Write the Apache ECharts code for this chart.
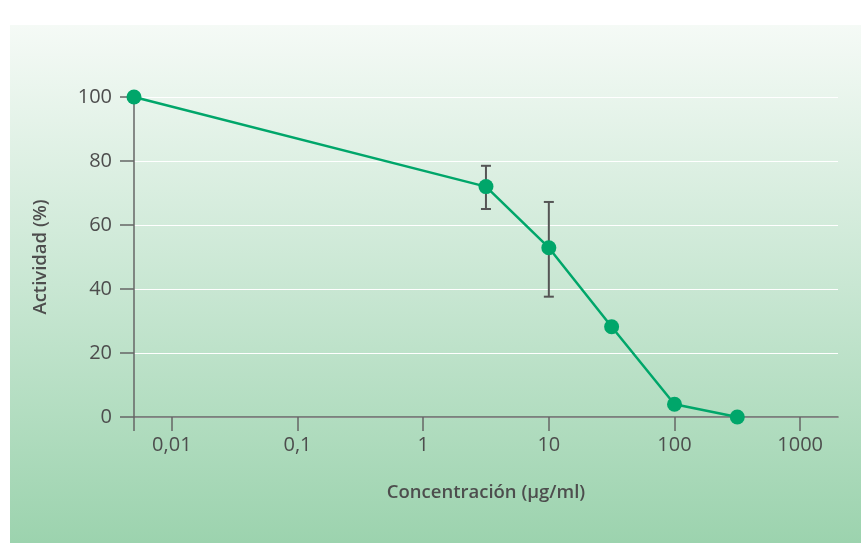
<!DOCTYPE html>
<html>
<head>
<meta charset="utf-8">
<script src="https://cdn.jsdelivr.net/npm/echarts@6/dist/echarts.min.js"></script>
<style>html,body{margin:0;padding:0;background:#fff;}#c{width:861px;height:543px;}</style>
</head>
<body>
<div id="c"></div>
<script>
// Data
const concentrations = [0.005, 3.16, 10, 31.6, 100, 316];
const activity = [100, 72, 52.9, 28.2, 4, 0];
const errLow = [null, 65, 37.6, null, null, null];
const errHigh = [null, 78.5, 67.2, null, null, null];
const xTickValues = [0.005, 0.01, 0.1, 1, 10, 100, 1000];
const xLabelValues = [0.01, 0.1, 1, 10, 100, 1000];
const xLabelTexts = ['0,01', '0,1', '1', '10', '100', '1000'];
const yTicks = [0, 20, 40, 60, 80, 100];

const chart = echarts.init(document.getElementById('c'), null, {renderer: 'canvas'});
const lineData = concentrations.map((c, i) => [c, activity[i]]);
const errData = [];
concentrations.forEach((c, i) => { if (errLow[i] != null) errData.push([c, errLow[i], errHigh[i]]); });

const font = '"Open Sans", "Noto Sans", sans-serif';
const axisCol = '#666666';
const textCol = '#4d4d4d';

chart.setOption({
  animation: false,
  graphic: [{
    type: 'rect', z: -10, silent: true,
    shape: {x: 10, y: 25, width: 851, height: 518},
    style: {fill: new echarts.graphic.LinearGradient(0, 0, 0, 1, [
      {offset: 0, color: '#f5faf6'},
      {offset: 0.5, color: '#c9e7d3'},
      {offset: 1, color: '#9cd3ae'}
    ])}
  }],
  grid: {left: 134, right: 23, top: 97, bottom: 126},
  xAxis: {
    type: 'log', logBase: 10, min: 0.005, max: 2000,
    name: 'Concentración (µg/ml)', nameLocation: 'middle', nameGap: 66,
    nameTextStyle: {fontFamily: font, fontWeight: 600, fontSize: 18.5, color: textCol},
    axisLine: {show: true, lineStyle: {color: axisCol, width: 1.5}},
    axisTick: {show: true, length: 14, lineStyle: {color: axisCol, width: 1.5}, customValues: xTickValues},
    axisLabel: {fontFamily: font, fontSize: 20, color: textCol, margin: 18, customValues: xLabelValues,
      formatter: function (v) { const i = xLabelValues.findIndex(t => Math.abs(t - v) / t < 1e-6); return i >= 0 ? xLabelTexts[i] : ''; }},
    splitLine: {show: false}
  },
  yAxis: {
    type: 'value', min: 0, max: 100, interval: 20,
    name: 'Actividad (%)', nameLocation: 'middle', nameGap: 84,
    nameTextStyle: {fontFamily: font, fontWeight: 600, fontSize: 18.5, color: textCol},
    axisLine: {show: true, lineStyle: {color: axisCol, width: 1.5}},
    axisTick: {show: true, length: 14, lineStyle: {color: axisCol, width: 1.5}},
    axisLabel: {fontFamily: font, fontSize: 20, color: textCol, margin: 22},
    splitLine: {show: true, lineStyle: {color: '#ffffff', width: 1.2}}
  },
  series: [{
    type: 'custom',
    name: 'error',
    z: 3,
    data: errData,
    renderItem: function (params, api) {
      const x = api.value(0);
      const lo = api.coord([x, api.value(1)]);
      const hi = api.coord([x, api.value(2)]);
      const hw = 5;
      const st = {stroke: '#555555', lineWidth: 2};
      return {type: 'group', children: [
        {type: 'line', shape: {x1: lo[0], y1: lo[1], x2: hi[0], y2: hi[1]}, style: st},
        {type: 'line', shape: {x1: lo[0] - hw, y1: lo[1], x2: lo[0] + hw, y2: lo[1]}, style: st},
        {type: 'line', shape: {x1: hi[0] - hw, y1: hi[1], x2: hi[0] + hw, y2: hi[1]}, style: st}
      ]};
    }
  }, {
    type: 'line',
    z: 5,
    data: lineData,
    symbol: 'circle', symbolSize: 15,
    lineStyle: {color: '#00a66a', width: 2.5},
    itemStyle: {color: '#00a66a'},
    clip: false
  }]
});
</script>
</body>
</html>
